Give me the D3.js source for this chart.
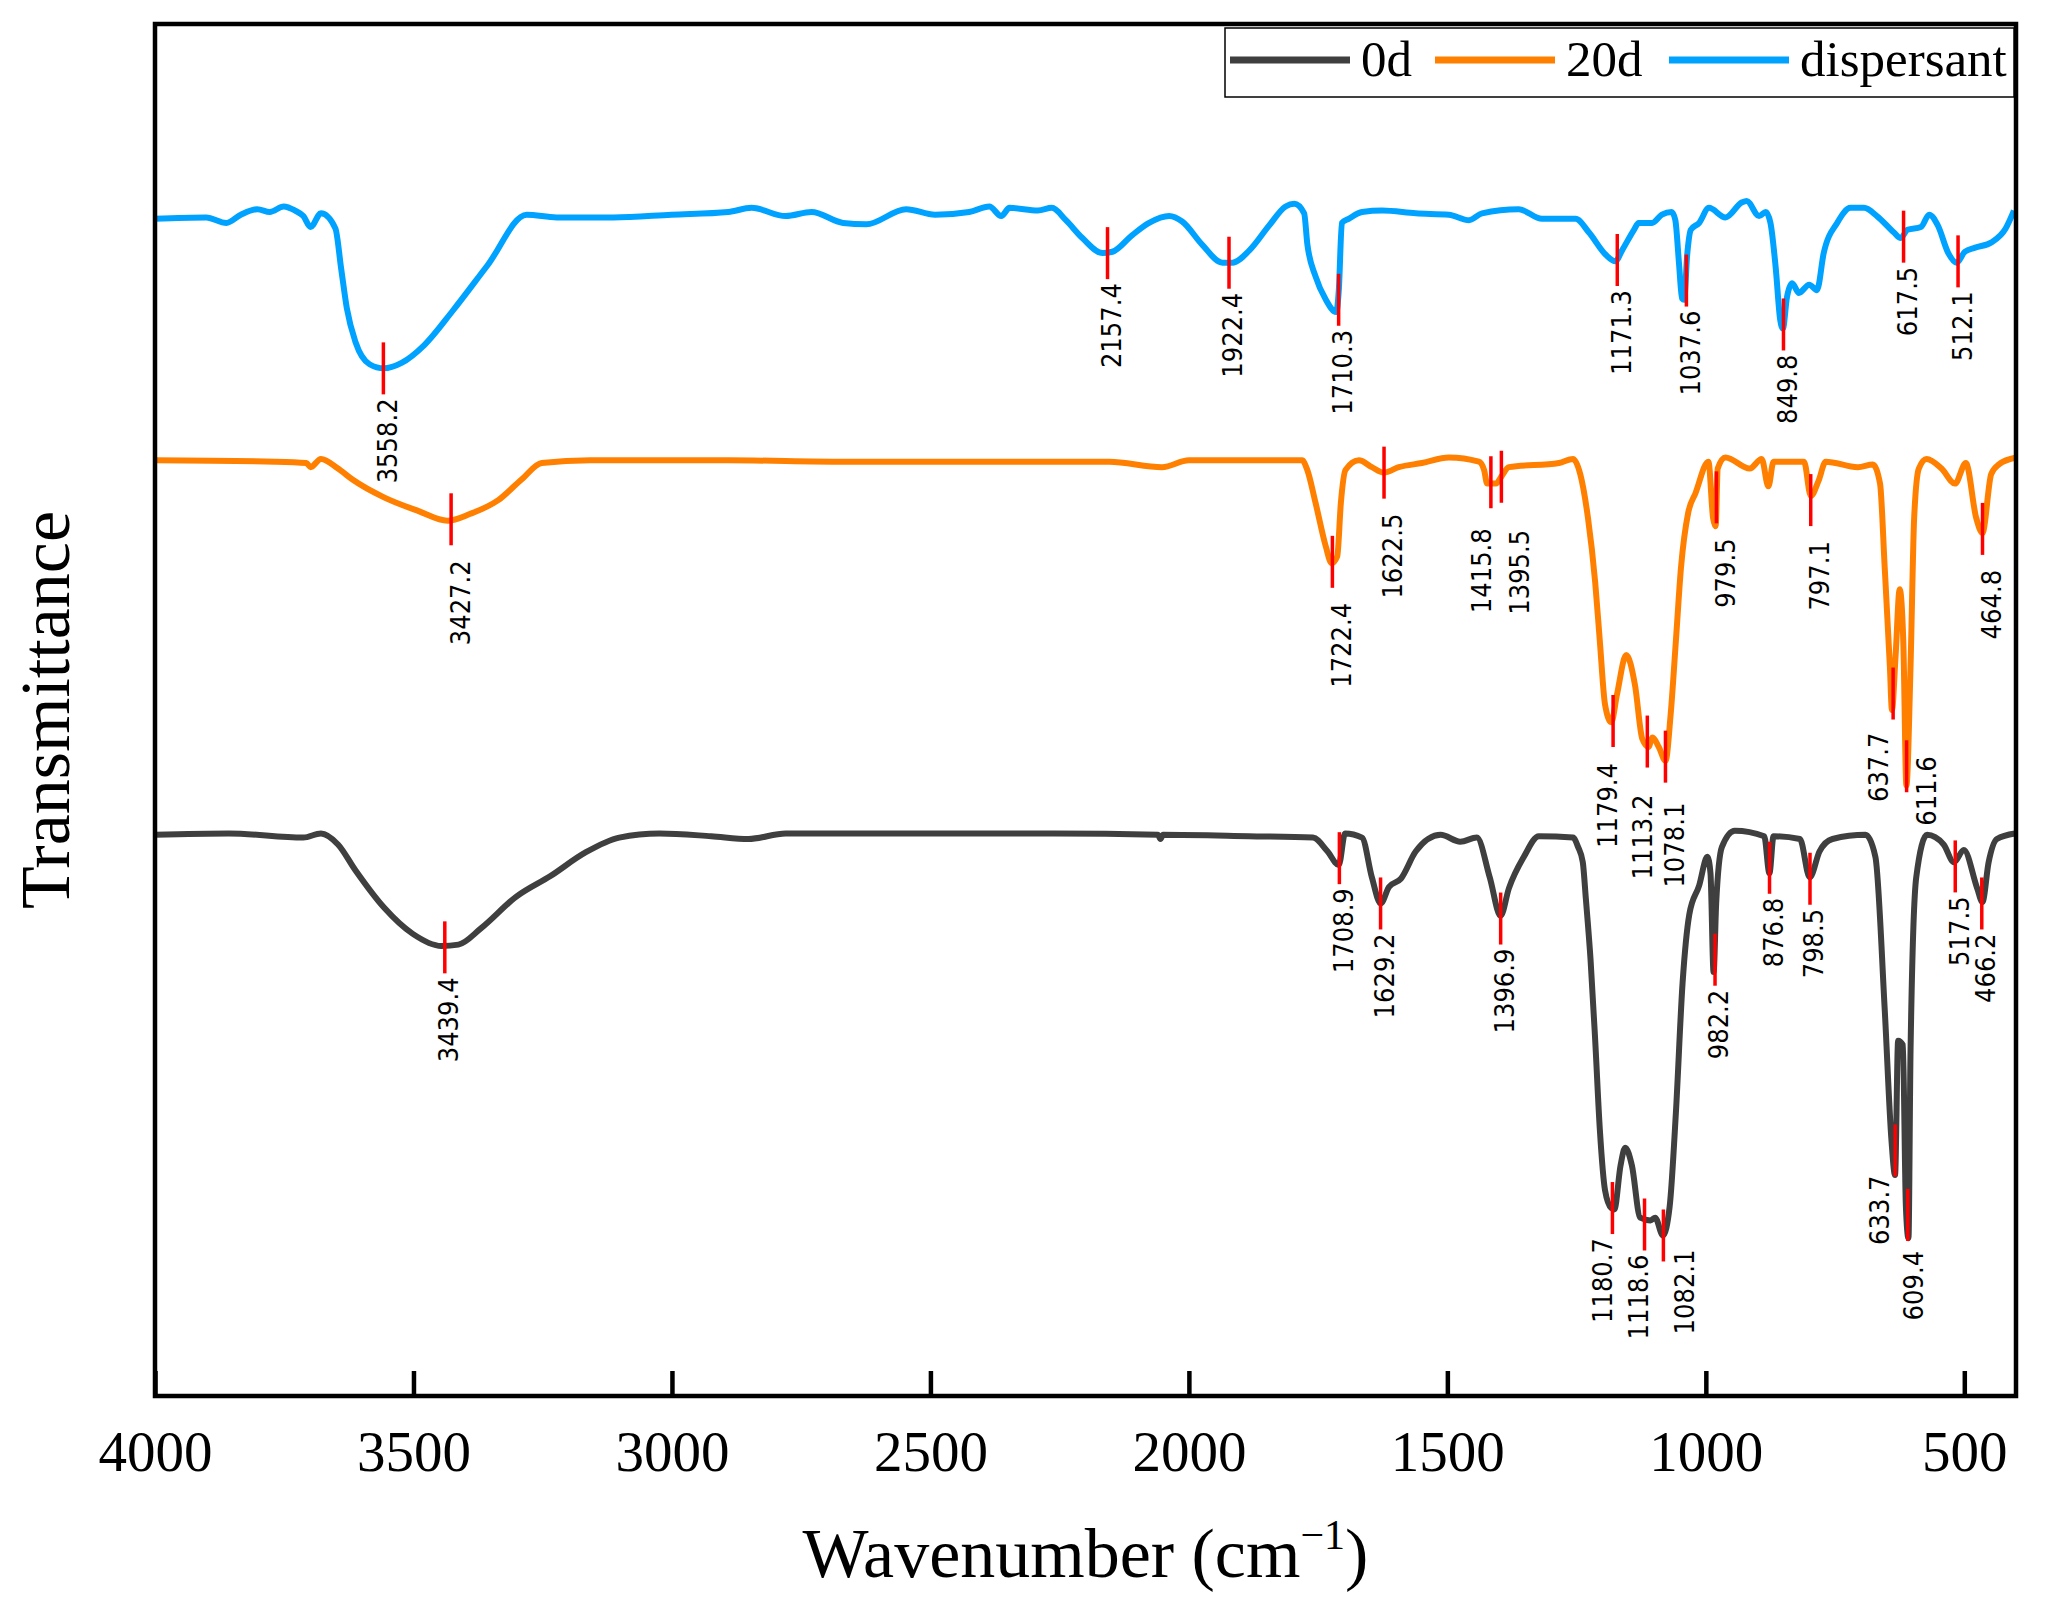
<!DOCTYPE html>
<html>
<head>
<meta charset="utf-8">
<script src="https://cdn.jsdelivr.net/npm/d3@7"></script>
<style>
  body { margin: 0; background: #fff; }
  svg { display: block; }
</style>
</head>
<body>
<svg id="chart" width="2049" height="1618"></svg>
<script>
// spectra: [wavenumber, transmittance (offset, a.u.)]
var dispersant = [[4000,85.8],[3901,85.9],[3862,85.5],[3834,86.1],[3802,86.5],[3778,86.3],[3751,86.7],[3729,86.4],[3713,86.0],[3699,85.2],[3679,86.2],[3651,85.1],[3640,82.2],[3629,79.3],[3612,76.8],[3585,75.2],[3557,74.9],[3523,75.3],[3479,76.6],[3424,79.1],[3357,82.4],[3281,86.1],[3223,85.9],[3113,85.9],[3001,86.1],[2891,86.3],[2846,86.6],[2780,86.0],[2730,86.3],[2669,85.5],[2624,85.4],[2547,86.5],[2491,86.1],[2425,86.3],[2386,86.7],[2363,86.0],[2347,86.6],[2292,86.4],[2265,86.6],[2238,85.7],[2206,84.4],[2167,83.3],[2148,83.4],[2110,84.6],[2077,85.5],[2038,86.0],[2013,85.6],[1974,83.9],[1935,82.6],[1916,82.6],[1883,83.5],[1845,85.3],[1813,86.7],[1796,86.9],[1777,86.2],[1771,84.0],[1755,81.6],[1735,79.9],[1715,79.0],[1710,80.6],[1704,85.5],[1691,85.8],[1665,86.3],[1626,86.4],[1561,86.2],[1497,86.1],[1458,85.7],[1433,86.2],[1362,86.5],[1317,85.8],[1252,85.8],[1226,84.8],[1194,83.2],[1175,82.7],[1162,83.5],[1139,85.0],[1130,85.5],[1104,85.5],[1085,86.1],[1066,86.3],[1059,85.7],[1052,82.6],[1046,80.0],[1042,79.9],[1036,83.2],[1029,85.0],[1013,85.5],[994,86.6],[962,85.9],[930,87.0],[921,87.1],[897,86.0],[884,86.3],[875,85.5],[865,82.3],[856,78.4],[851,77.8],[843,80.1],[833,81.1],[820,80.4],[800,81.0],[785,80.6],[772,83.3],[746,85.5],[720,86.6],[694,86.6],[669,86.0],[636,84.8],[623,84.4],[610,85.0],[584,85.2],[568,86.1],[551,85.3],[531,83.3],[515,82.6],[499,83.4],[479,83.7],[447,84.1],[420,85.1],[404,86.4]];

var day20 = [[4000,68.2],[3768,68.1],[3707,68.0],[3699,67.7],[3679,68.3],[3646,67.6],[3618,66.8],[3557,65.5],[3490,64.5],[3434,63.8],[3390,64.3],[3336,65.3],[3291,66.8],[3252,68.0],[3158,68.2],[2891,68.2],[2669,68.1],[2154,68.1],[2052,67.7],[2000,68.2],[1781,68.2],[1771,67.5],[1755,65.1],[1735,61.9],[1724,60.7],[1713,61.2],[1706,65.1],[1697,67.5],[1671,68.2],[1646,67.7],[1623,67.3],[1594,67.7],[1549,68.0],[1497,68.4],[1439,68.1],[1429,67.5],[1423,66.5],[1406,66.5],[1394,67.1],[1381,67.7],[1284,68.0],[1257,68.3],[1243,67.2],[1228,64.0],[1214,59.3],[1205,55.0],[1195,50.4],[1183,49.1],[1172,51.1],[1154,54.0],[1137,51.8],[1123,47.9],[1111,47.3],[1103,48.0],[1091,47.3],[1078,46.3],[1068,49.7],[1058,55.0],[1048,60.4],[1034,64.4],[1020,65.8],[995,68.1],[986,64.0],[981,63.4],[977,67.6],[962,68.4],[915,67.6],[892,68.3],[879,66.3],[869,68.1],[810,68.1],[797,65.6],[782,66.7],[768,68.1],[706,67.7],[677,67.9],[663,66.5],[654,60.4],[644,53.2],[640,50.0],[633,53.9],[625,58.8],[618,55.0],[612,44.5],[604,53.2],[597,64.0],[588,67.6],[573,68.3],[544,67.6],[518,66.5],[497,68.0],[477,64.0],[465,62.9],[448,67.2],[433,67.9],[400,68.4]];

var day0 = [[4000,40.9],[3857,41.0],[3713,40.7],[3679,41.0],[3646,40.2],[3612,38.3],[3557,35.6],[3502,33.7],[3446,32.8],[3413,32.9],[3369,34.1],[3301,36.4],[3235,37.9],[3168,39.6],[3102,40.7],[3024,41.0],[2924,40.8],[2852,40.6],[2780,41.0],[2261,41.0],[2060,40.9],[2055,40.6],[2050,40.9],[1884,40.8],[1760,40.7],[1732,39.7],[1710,38.7],[1698,41.0],[1665,40.7],[1646,37.8],[1629,35.9],[1613,37.1],[1590,37.7],[1561,39.7],[1513,40.9],[1475,40.4],[1443,40.7],[1418,37.8],[1397,35.0],[1381,37.0],[1352,39.3],[1323,40.8],[1257,40.7],[1247,40.0],[1238,38.9],[1232,36.2],[1223,31.8],[1214,25.9],[1205,19.4],[1195,15.0],[1183,13.7],[1177,13.6],[1165,16.8],[1156,18.1],[1143,16.8],[1127,13.0],[1107,12.8],[1098,13.0],[1083,11.7],[1070,13.8],[1058,20.6],[1045,30.1],[1032,35.1],[1013,37.2],[997,39.3],[991,38.1],[985,30.9],[980,35.9],[969,40.0],[944,41.2],[887,40.8],[877,38.1],[869,40.8],[818,40.6],[799,37.8],[780,39.7],[755,40.6],[691,40.9],[672,39.3],[654,28.2],[641,18.7],[634,16.1],[628,25.9],[619,25.6],[613,13.8],[608,11.5],[604,25.2],[593,37.8],[572,40.9],[540,40.2],[520,38.9],[501,39.8],[475,37.0],[465,36.0],[453,38.9],[437,40.6],[402,41.0]];

// marked bands: [wavenumber, transmittance at marker]
var peaksDispersant = [[3558.2,74.9],[2157.4,83.3],[1922.4,82.6],[1710.3,79.9],[1171.3,82.8],[1037.6,81.3],[849.8,78.1],[617.5,84.5],[512.1,82.7]];
var peaks20d = [[3427.2,63.9],[1722.4,60.8],[1622.5,67.3],[1415.8,66.6],[1395.5,67.0],[1179.4,49.2],[1113.2,47.7],[1078.1,46.6],[979.5,65.5],[797.1,65.3],[637.7,51.2],[611.6,45.9],[464.8,63.2]];
var peaks0d = [[3439.4,32.7],[1708.9,39.2],[1629.2,35.9],[1396.9,34.8],[1180.7,13.7],[1118.6,12.5],[1082.1,11.7],[982.2,31.8],[876.8,38.5],[798.5,37.7],[633.7,17.9],[609.4,13.2],[517.5,38.6],[466.2,35.9]];

var seriesNames = ['0d', '20d', 'dispersant'];
var xTicks = [4000, 3500, 3000, 2500, 2000, 1500, 1000, 500];

var colors = { '0d': '#3f3f3f', '20d': '#ff8000', 'dispersant': '#00a2ff' };

var svg = d3.select('#chart');
var plotL = 155, plotR = 2016, plotT = 24, plotB = 1396;

var x = d3.scaleLinear().domain([4000, 400]).range([plotL, plotR]);
var y = d3.scaleLinear().domain([0, 100]).range([plotB, plotT]);

var line = d3.line()
  .x(function(d) { return x(d[0]); })
  .y(function(d) { return y(d[1]); })
  .curve(d3.curveMonotoneX);

var series = [
  { name: 'dispersant', data: dispersant, peaks: peaksDispersant, dx: 4, gap: 4 },
  { name: '20d', data: day20, peaks: peaks20d, dx: 9, gap: 15 },
  { name: '0d', data: day0, peaks: peaks0d, dx: 4, gap: 4 }
];

// hand placed labels where neighbours crowd each other
var nudge = {
  '1415.8': { dx: -9, gap: 20 }, '1395.5': { dx: 18, gap: 27 },
  '1179.4': { dx: -6, gap: 16 }, '1113.2': { dx: -5, gap: 27 }, '1078.1': { dx: 9, gap: 20 },
  '637.7': { dx: -15, gap: 13 }, '611.6': { dx: 20, gap: -36 },
  '1180.7': { dx: -10 }, '1118.6': { dx: -6 }, '1082.1': { dx: 21, gap: -12 },
  '633.7': { dx: -16, gap: -1 }, '609.4': { dx: 6, gap: 10 }
};

svg.append('g').selectAll('path')
  .data(series)
  .enter().append('path')
    .attr('d', function(s) { return line(s.data); })
    .attr('fill', 'none')
    .attr('stroke', function(s) { return colors[s.name]; })
    .attr('stroke-width', 6)
    .attr('stroke-linejoin', 'round');

var half = 26;
series.forEach(function(s) {
  var g = svg.append('g');
  g.selectAll('line')
    .data(s.peaks)
    .enter().append('line')
      .attr('x1', function(d) { return x(d[0]); })
      .attr('x2', function(d) { return x(d[0]); })
      .attr('y1', function(d) { return y(d[1]) - half; })
      .attr('y2', function(d) { return y(d[1]) + half; })
      .attr('stroke', '#ff0000')
      .attr('stroke-width', 3.5);

  g.selectAll('text')
    .data(s.peaks)
    .enter().append('text')
      .attr('transform', function(d) {
        var lab = d[0].toFixed(1), n = nudge[lab] || {};
        var dx = n.dx !== undefined ? n.dx : s.dx;
        var gap = n.gap !== undefined ? n.gap : s.gap;
        return 'translate(' + (x(d[0]) + dx) + ',' + (y(d[1]) + half + gap) + ') rotate(-90)';
      })
      .attr('dy', '0.35em')
      .attr('text-anchor', 'end')
      .attr('font-family', '"DejaVu Sans Condensed", "DejaVu Sans", sans-serif')
      .attr('font-stretch', 'condensed')
      .attr('font-size', 27)
      .attr('fill', '#000')
      .text(function(d) { return d[0].toFixed(1); });
});

// bottom axis, ticks pointing inwards
var axis = d3.axisBottom(x)
  .tickValues(xTicks)
  .tickFormat(d3.format('d'))
  .tickSizeInner(-25)
  .tickSizeOuter(0)
  .tickPadding(35);

var ax = svg.append('g')
  .attr('transform', 'translate(0,' + plotB + ')')
  .call(axis);
ax.select('.domain').remove();
ax.selectAll('.tick line').attr('stroke', '#000').attr('stroke-width', 4.5);
ax.selectAll('.tick text')
  .attr('font-family', '"Liberation Serif", "Times New Roman", serif')
  .attr('font-size', 57)
  .attr('fill', '#000');

svg.append('rect')
  .attr('x', plotL).attr('y', plotT)
  .attr('width', plotR - plotL).attr('height', plotB - plotT)
  .attr('fill', 'none')
  .attr('stroke', '#000')
  .attr('stroke-width', 4.5);

var title = svg.append('text')
  .attr('x', (plotL + plotR) / 2)
  .attr('y', 1577)
  .attr('text-anchor', 'middle')
  .attr('font-family', '"Liberation Serif", "Times New Roman", serif')
  .attr('font-size', 70)
  .attr('fill', '#000');
title.append('tspan').text('Wavenumber (cm');
title.append('tspan').attr('font-size', 42).attr('dy', -28).text('\u22121');
title.append('tspan').attr('dy', 28).text(')');

svg.append('text')
  .attr('transform', 'translate(69,' + ((plotT + plotB) / 2) + ') rotate(-90)')
  .attr('text-anchor', 'middle')
  .attr('font-family', '"Liberation Serif", "Times New Roman", serif')
  .attr('font-size', 70)
  .attr('fill', '#000')
  .text('Transmittance');

// legend
var legend = svg.append('g');
legend.append('rect')
  .attr('x', 1225).attr('y', 28)
  .attr('width', 789).attr('height', 69)
  .attr('fill', '#fff')
  .attr('stroke', '#000')
  .attr('stroke-width', 1.5);

var legendX = { '0d': 1230, '20d': 1435, 'dispersant': 1669 };
var item = legend.selectAll('g.item')
  .data(seriesNames)
  .enter().append('g')
    .attr('class', 'item')
    .attr('transform', function(d) { return 'translate(' + legendX[d] + ',0)'; });
item.append('line')
  .attr('x1', 0).attr('x2', 120)
  .attr('y1', 60).attr('y2', 60)
  .attr('stroke', function(d) { return colors[d]; })
  .attr('stroke-width', 7);
item.append('text')
  .attr('x', 131).attr('y', 76)
  .attr('font-family', '"Liberation Serif", "Times New Roman", serif')
  .attr('font-size', 51)
  .attr('fill', '#000')
  .text(function(d) { return d; });
</script>
</body>
</html>
